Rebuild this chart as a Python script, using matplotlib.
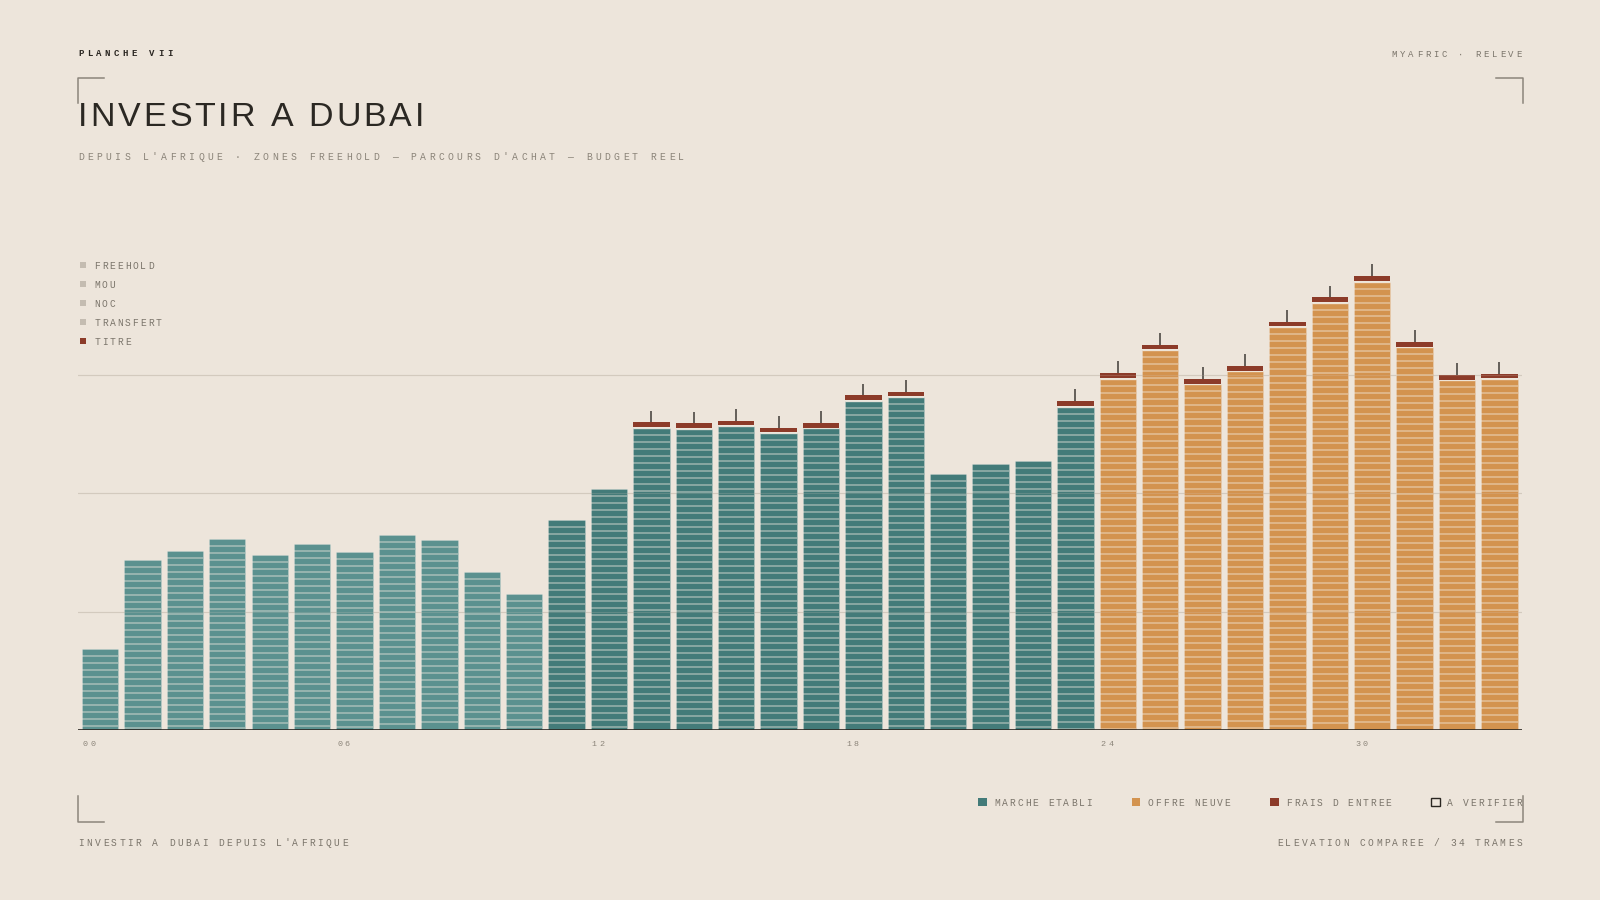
import numpy as np
import matplotlib
matplotlib.use('Agg')
import matplotlib.pyplot as plt
from matplotlib.lines import Line2D
from matplotlib.patches import Rectangle

marche = [17.1, 35.9, 37.9, 40.3, 37.0, 39.3, 37.6, 41.2, 40.1, 33.4, 28.7,
          44.3, 50.9, 63.8, 63.6, 64.2, 62.7, 63.7, 69.5, 70.3, 54.0, 56.1, 56.7, 68.3]
offre = [74.2, 80.2, 73.0, 75.7, 85.1, 90.2, 94.7, 80.8, 73.8, 74.1]
frais = [0, 0, 0, 0, 0, 0, 0, 0, 0, 0, 0, 0, 0, 1.0, 1.0, 1.0, 1.0, 1.0, 1.0, 1.0,
         0, 0, 0, 1.0, 1.0, 1.0, 1.0, 1.0, 1.0, 1.0, 1.0, 1.0, 1.0, 1.0]
ecart = [0, 0, 0, 0, 0, 0, 0, 0, 0, 0, 0, 0, 0, 2.5, 2.5, 2.5, 2.5, 2.5, 2.5, 2.5,
         0, 0, 0, 2.5, 2.5, 2.5, 2.5, 2.5, 2.5, 2.5, 2.5, 2.5, 2.5, 2.5]
ticks = [0, 6, 12, 18, 24, 30]
tick_labels = ['00', '06', '12', '18', '24', '30']
grille = [25, 50, 75]
legende_haut = ['FREEHOLD', 'MOU', 'NOC', 'TRANSFERT', 'TITRE']
legende_bas = ['MARCHE ETABLI', 'OFFRE NEUVE', 'FRAIS D ENTREE', 'A VERIFIER']

W, H = 1600, 900
bg = '#ede5db'
teal_clair = '#5b918f'
teal = '#437b79'
orange = '#d3934f'
rouge = '#8c3b29'
gris = '#7b756b'
encre = '#2a2621'

# largeurs Arial/Liberation Sans (em) pour le titre
arial = {'I': .278, 'N': .722, 'V': .667, 'E': .667, 'S': .667, 'T': .611, 'R': .722,
         'A': .667, 'D': .722, 'U': .722, 'B': .667, ' ': .278}

fig = plt.figure(figsize=(16, 9), dpi=100, facecolor=bg)


def texte(x, y, s, size, track, color, ha='left', weight='normal',
          family='Liberation Mono', widths=None):
    # texte espace lettre par lettre, x/y en pixels depuis le haut gauche
    em = size * 100 / 72
    advs = [(widths[c] if widths else 0.6) * em + track for c in s]
    total = sum(advs) - track
    if ha == 'right':
        x = x - total
    for c, a in zip(s, advs):
        if c != ' ':
            fig.text(x / W, 1 - y / H, c, fontsize=size, family=family, weight=weight,
                     color=color, ha='left', va='baseline')
        x += a
    return total


def trait(xs, ys, color='#8c857b', lw=1.1):
    fig.add_artist(Line2D([x / W for x in xs], [1 - y / H for y in ys],
                          color=color, lw=lw, transform=fig.transFigure))


def carre(x, y, s, fc, ec='none'):
    fig.add_artist(Rectangle((x / W, 1 - (y + s) / H), s / W, s / H, facecolor=fc,
                             edgecolor=ec, lw=1.0, transform=fig.transFigure))


# axes
ax = fig.add_axes([78 / W, 1 - 730 / H, 1444 / W, 473.6 / H])
ax.set_facecolor('none')
ax.set_xlim(-0.094, 33.96)
ax.set_ylim(0, 100)
ax.axis('off')

valeurs = marche + offre
largeur = 0.856
pas = 1.478
for i, h in enumerate(valeurs):
    if i < 11:
        c = teal_clair
    elif i < len(marche):
        c = teal
    else:
        c = orange
    ax.bar(i, h, width=largeur, align='edge', color=c, edgecolor=(1, 1, 1, 0.2),
           lw=0.6, zorder=2)
    ys = np.arange(h - pas, 0.3, -pas)
    ax.hlines(ys, i, i + largeur, color='#f3ece2', alpha=0.5, lw=1.1, zorder=2.5)
    if frais[i] > 0:
        ax.hlines(h, i, i + largeur, color='#f3ece2', alpha=0.8, lw=1.0, zorder=2.6)
        ax.bar(i, frais[i], bottom=h + 0.15, width=largeur, align='edge', color=rouge,
               lw=0, zorder=2.7)
        top = h + 0.15 + frais[i]
        ax.vlines(i + largeur / 2, top, top + ecart[i], color='#4d4843', lw=1.2, zorder=2.7)

for g in grille:
    ax.axhline(g, color='#d3cabe', lw=0.8, zorder=1)
    ax.axhline(g, color='#d3cabe', alpha=0.2, lw=0.8, zorder=3)
ax.axhline(0, color=encre, lw=1.2, zorder=4)

# etiquettes des ticks
for t, lab in zip(ticks, tick_labels):
    xp = ax.transData.transform((t, 0))[0]
    texte(xp + 1, 745.7, lab, 6, 2.4, '#8b8479')

# en-tete
texte(78, 56, 'PLANCHE VII', 6.5, 3.5, encre, weight='bold')
texte(1522, 56.7, 'MYAFRIC · RELEVE', 6.5, 2.9, gris, ha='right')
texte(78, 126, 'INVESTIR A DUBAI', 24.5, 2.9, '#2b2823', family='Liberation Sans', widths=arial)
texte(78, 160, "DEPUIS L'AFRIQUE · ZONES FREEHOLD — PARCOURS D'ACHAT — BUDGET REEL",
      7, 3.4, '#8b8479')

# coins
trait([78, 78, 104], [103, 77.7, 77.7])
trait([1496, 1522.5, 1522.5], [77.7, 77.7, 103])
trait([78, 78, 104], [796, 822, 822])
trait([1496, 1522.5, 1522.5], [822, 822, 796])

# legende haut gauche
for k, lab in enumerate(legende_haut):
    b = 269 + k * 19
    carre(80, b - 7, 6.3, rouge if lab == 'TITRE' else '#c4bcb1')
    texte(94.3, b, lab, 6.9, 1.9, gris)

# legende bas droite
couleurs = [teal, orange, rouge, 'none']
larg = [len(s) * (0.6 * 6.9 * 100 / 72 + 1.9) - 1.9 for s in legende_bas]
x = 1522 - (sum(larg) + 16 * 4 + 40 * 3)
for lab, c, w in zip(legende_bas, couleurs, larg):
    if c == 'none':
        carre(x, 797.5, 8.5, 'none', ec=encre)
    else:
        carre(x, 797.5, 8.5, c)
    texte(x + 16, 805.7, lab, 6.9, 1.9, gris)
    x += 16 + w + 40

# pied de page
texte(78, 846, "INVESTIR A DUBAI DEPUIS L'AFRIQUE", 6.9, 2.5, gris)
texte(1522, 846, 'ELEVATION COMPAREE / 34 TRAMES', 6.9, 2.5, gris, ha='right')

fig.savefig('out.png', dpi=100, facecolor=bg)
